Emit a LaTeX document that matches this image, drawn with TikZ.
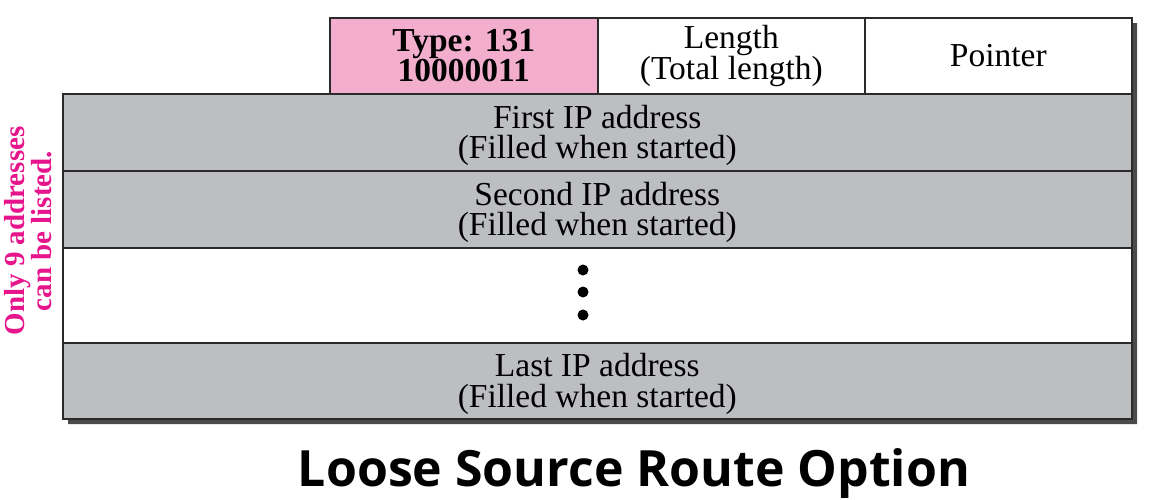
\documentclass[tikz,border=0pt]{standalone}
\usepackage{fontspec}
\setmainfont{Liberation Serif}
\newfontfamily\titlefont{Open Sans}
\definecolor{cellgray}{HTML}{BDBEC2}
\definecolor{cellpink}{HTML}{F4AECD}
\definecolor{magtext}{HTML}{E6158C}
\definecolor{shadowc}{HTML}{4A4A4A}
\definecolor{linec}{HTML}{2A2A2A}
\begin{document}
\begin{tikzpicture}[x=1pt,y=-1pt,
  cell/.style={draw=linec,line width=1.6pt,inner sep=0pt,anchor=north west,align=center,
    font=\fontsize{33.5}{30.5}\selectfont},
  celltext/.style={inner sep=0pt,align=center,font=\fontsize{33.5}{30.5}\selectfont,yshift=-3pt},
  dotc/.style={circle,fill=black,inner sep=0pt,minimum size=11pt}]
\useasboundingbox (0,0) rectangle (1153,499);
% shadow
\fill[shadowc] (335,23) -- (1137,23) -- (1137,424) -- (68,424) -- (68,99) -- (335,99) -- cycle;
% header
\node[cell,fill=cellpink,minimum width=268pt,minimum height=76pt] (type) at (329,17)
  {\bfseries Type: 131\\\bfseries 10000011};
\node[cell,fill=white,minimum width=267pt,minimum height=76pt] (len) at (597,17)
  {Length\\(Total length)};
\node[cell,fill=white,minimum width=267pt,minimum height=76pt] (ptr) at (864,17)
  {Pointer};
% body
\node[cell,fill=cellgray,minimum width=1069pt,minimum height=77pt] (first) at (62,93) {};
\node[cell,fill=cellgray,minimum width=1069pt,minimum height=77pt] (second) at (62,170) {};
\node[cell,fill=white,minimum width=1069pt,minimum height=95pt] (dots) at (62,247) {};
\node[cell,fill=cellgray,minimum width=1069pt,minimum height=76pt] (last) at (62,342) {};
\node[celltext] (firstt) at (first.center) {First IP address\\(Filled when started)};
\node[celltext] (secondt) at (second.center) {Second IP address\\(Filled when started)};
\node[celltext] (lastt) at (last.center) {Last IP address\\(Filled when started)};
\node[dotc] (d1) at (583,270) {};
\node[dotc] (d2) at (583,292) {};
\node[dotc] (d3) at (583,315) {};
% side note
\node[rotate=90,text=magtext,align=center,inner sep=0pt,
  font=\bfseries\fontsize{29}{21}\selectfont] (note) at (28,231)
  {Only 9 addresses\\can be listed.};
% title
\node[font=\titlefont\bfseries\fontsize{50}{52}\selectfont,inner sep=0pt] (title) at (634,474)
  {Loose Source Route Option};
\end{tikzpicture}
\end{document}
